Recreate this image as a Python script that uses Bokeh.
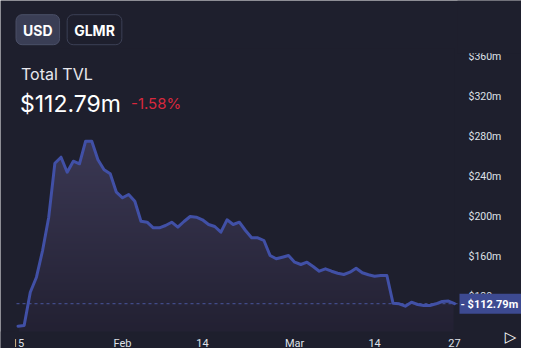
import numpy as np
import pandas as pd
from bokeh.plotting import figure
from bokeh.models import (FixedTicker, PrintfTickFormatter, Label, Range1d, LinearAxis,
                          BoxAnnotation)
from bokeh.embed import file_html
from bokeh.resources import INLINE

# ---------------- data ----------------
dates = pd.date_range("2022-01-15", "2022-03-27", freq="D")
tvl = [90.3, 91.0, 124.3, 139.3, 166.0, 199.3, 253.3, 259.3, 244.3, 255.3,
       252.7, 275.3, 275.3, 256.7, 246.7, 242.7, 224.3, 218.7, 222.0, 215.3,
       195.3, 194.3, 188.7, 188.7, 191.0, 194.3, 189.3, 195.0, 200.0, 199.3,
       196.7, 192.0, 190.0, 184.3, 196.7, 192.0, 194.3, 186.0, 178.7, 178.7,
       176.0, 161.0, 157.7, 159.3, 161.0, 154.3, 152.0, 154.3, 150.0, 145.3,
       147.7, 145.3, 143.3, 142.0, 144.3, 148.3, 143.7, 141.7, 140.3, 141.0,
       141.0, 113.3, 112.7, 110.3, 114.3, 112.0, 111.0, 111.0, 112.7, 115.0,
       115.5, 112.79]
tick_dates = ["2022-01-15", "2022-02-01", "2022-02-14", "2022-03-01", "2022-03-14", "2022-03-27"]
tick_labels = ["15", "Feb", "14", "Mar", "14", "27"]
y_ticks = [120, 160, 200, 240, 280, 320, 360]
change_text = "-1.58%"
currencies = ["USD", "GLMR"]

# ---------------- layout ----------------
BG = "#1e1f2d"
W, H = 521, 348
days = np.asarray((dates - dates[0]).days, dtype=float)
tick_days = [float((pd.Timestamp(d) - dates[0]).days) for d in tick_dates]

PX_PER_DAY = 6.148
X0_PX = 17.5          # pixel of first date
xr0 = -X0_PX / PX_PER_DAY
xr1 = xr0 + W / PX_PER_DAY
yr1 = 416.0            # 1 px per $1m
yr0 = yr1 - H
PANE_L, PANE_R, PANE_T, PANE_B = 16, 457, 53, 331


def dx(px):
    return xr0 + px * (xr1 - xr0) / W


def dy(py):
    return yr1 - py * (yr1 - yr0) / H


p = figure(width=W, height=H, output_backend="svg", toolbar_location=None,
           x_range=Range1d(xr0, xr1), y_range=Range1d(yr0, yr1),
           x_axis_location=None, y_axis_location=None,
           min_border_left=0, min_border_right=0, min_border_top=0, min_border_bottom=0)
p.title.visible = False
p.background_fill_color = BG
p.border_fill_color = BG
p.outline_line_color = None
p.grid.visible = False

# gradient fill under the line: a vertical gradient, masked above the line
pane_top_v, pane_bot_v = dy(PANE_T), dy(PANE_B)
NH = int(round(pane_top_v - pane_bot_v))
t = np.linspace(0, 1, NH)[:, None]
c_bot = np.array([35, 33, 51], dtype=float)
c_top = np.array([70, 67, 99], dtype=float)
rgb = c_bot + (c_top - c_bot) * t
img = np.empty((NH, 1), dtype=np.uint32)
view = img.view(dtype=np.uint8).reshape((NH, 1, 4))
view[:, :, 0] = rgb[:, 0:1].astype(np.uint8)
view[:, :, 1] = rgb[:, 1:2].astype(np.uint8)
view[:, :, 2] = rgb[:, 2:3].astype(np.uint8)
view[:, :, 3] = 255
inset = 0.15
p.image_rgba(image=[img], x=days[0] + inset, y=pane_bot_v,
             dw=days[-1] - days[0] - 2 * inset, dh=pane_top_v - pane_bot_v)
p.varea(x=days, y1=tvl, y2=pane_top_v + 5, fill_color=BG, fill_alpha=1.0)

# last-price dashed line
p.segment(x0=dx(PANE_L), x1=dx(PANE_R), y0=tvl[-1], y1=tvl[-1],
          line_color="#4a569f", line_width=1, line_dash="3 3")

p.line(days, tvl, line_width=3, line_color="#4150a6", line_join="round", line_cap="round")

# axes (drawn at fixed locations at the pane edges)
yaxis = LinearAxis(ticker=FixedTicker(ticks=y_ticks),
                   formatter=PrintfTickFormatter(format="$%dm"),
                   fixed_location=dx(PANE_R))
xaxis = LinearAxis(ticker=FixedTicker(ticks=tick_days), fixed_location=dy(PANE_B))
xaxis.major_label_overrides = {d: l for d, l in zip(tick_days, tick_labels)}
for ax in (xaxis, yaxis):
    ax.axis_line_color = None
    ax.major_tick_line_color = None
    ax.minor_tick_line_color = None
    ax.major_tick_out = 0
    ax.major_tick_in = 0
    ax.major_label_text_font = "Roboto"
    ax.major_label_text_color = "#dfe1e8"
yaxis.major_label_text_font_size = "10.5px"
xaxis.major_label_text_font_size = "11px"
yaxis.major_label_standoff = 11
xaxis.major_label_standoff = 5
p.add_layout(yaxis, "right")
p.add_layout(xaxis, "below")

# pane clipping of the axis labels
p.add_layout(BoxAnnotation(left=dx(PANE_R), bottom=dy(PANE_T - 0.3), fill_color=BG,
                           fill_alpha=1.0, line_color=None))
p.add_layout(BoxAnnotation(right=dx(PANE_L - 1.5), top=dy(PANE_B), fill_color=BG,
                           fill_alpha=1.0, line_color=None))

# price label on axis
p.add_layout(Label(x=dx(459), y=tvl[-1], text=f"- ${tvl[-1]:.2f}m", text_align="left",
                   text_baseline="middle", text_font="Roboto", text_font_size="11px",
                   text_font_style="bold", text_color="white",
                   background_fill_color="#3d4a91",
                   padding=dict(left=1, right=7, top=4, bottom=3)))

# header
p.add_layout(Label(x=dx(37.3), y=dy(29.2), text=currencies[0], text_align="center",
                   text_baseline="middle", text_font="Inter", text_font_size="14px",
                   text_font_style="bold", text_color="white",
                   background_fill_color="#3a3e55", border_line_color="#4b5068",
                   border_line_width=1, border_radius=6,
                   padding=dict(left=7, right=7, top=7, bottom=6)))
p.add_layout(Label(x=dx(94), y=dy(29.2), text=currencies[1], text_align="center",
                   text_baseline="middle", text_font="Inter", text_font_size="14px",
                   text_font_style="bold", text_color="white",
                   background_fill_color=BG, border_line_color="#3c4055",
                   border_line_width=1, border_radius=6,
                   padding=dict(left=7, right=7, top=7, bottom=6)))
p.add_layout(Label(x=dx(20.5), y=dy(73), text="Total TVL", text_align="left",
                   text_baseline="alphabetic", text_font="Inter", text_font_size="16px",
                   text_color="#e8e8ee"))
p.add_layout(Label(x=dx(19.5), y=dy(103.3), text=f"${tvl[-1]:.2f}m", text_align="left",
                   text_baseline="alphabetic", text_font="Inter", text_font_size="23px",
                   text_color="white"))
p.add_layout(Label(x=dx(130.5), y=dy(102.5), text=change_text, text_align="left",
                   text_baseline="alphabetic", text_font="Inter", text_font_size="15px",
                   text_color="#d8283d"))
# play button
p.add_layout(Label(x=dx(510), y=dy(336), text="\u25b7", text_align="center",
                   text_baseline="middle", text_font="DejaVu Sans", text_font_size="15px",
                   text_color="white"))

open("out.html", "w").write(file_html(p, INLINE))
